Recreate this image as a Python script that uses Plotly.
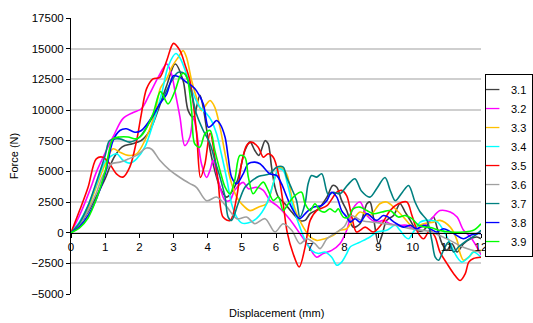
import plotly.graph_objects as go

# ---------------- data ----------------
series_names = ["3.1", "3.2", "3.3", "3.4", "3.5", "3.6", "3.7", "3.8", "3.9"]
series_colors = ["#404040", "#FF00FF", "#FFC000", "#00FFFF", "#FF0000",
                 "#A0A0A0", "#008080", "#0000FF", "#00FF00"]

x31 = [0,0.25,0.5,0.75,1.0,1.25,1.5,1.8,2.05,2.3,2.55,2.8,3.05,3.28,3.43,3.58,3.77,3.87,4.02,4.16,4.36,4.55,4.85,5.09,5.24,5.38,5.5,5.68,5.77,5.87,5.97,6.07,6.26,6.46,6.7,6.85,7.0,7.24,7.49,7.66,7.78,7.92,8.07,8.26,8.46,8.66,8.75,8.85,9.0,9.1,9.24,9.44,9.63,9.78,9.93,10.12,10.32,10.51,10.61,10.71,10.86,11.0,11.15,11.3,11.49,11.69,11.88,12.0]
y31 = [0,700,1700,3000,4400,6100,7000,7250,7500,8300,10000,12000,13750,12400,9950,9400,11200,10200,7500,5600,3700,2900,4100,6700,7400,6700,6300,7500,7250,5340,3700,2900,2360,1680,1000,1000,1550,1950,2900,3850,3700,2630,1800,450,730,2360,2500,1270,-900,-220,1000,1400,2360,1680,1000,190,190,1000,1270,450,-900,-1440,-900,-1580,-900,-500,-350,-500]

x32 = [0,0.25,0.55,0.75,0.94,1.23,1.52,1.82,2.06,2.3,2.55,2.8,2.94,3.04,3.19,3.33,3.48,3.58,3.67,3.82,3.97,4.07,4.16,4.31,4.51,4.65,4.79,5.04,5.19,5.43,5.63,5.82,6.02,6.31,6.5,6.7,6.94,7.19,7.38,7.63,7.87,8.07,8.26,8.46,8.66,8.95,9.14,9.34,9.58,9.83,10.02,10.27,10.51,10.8,11.1,11.3,11.49,11.69,11.88,12.0]
y32 = [0,1400,3450,5000,6150,7800,9300,9800,10100,11300,12660,13750,12950,11580,9400,7100,7800,9400,8300,5600,4500,5100,5900,4250,2630,2630,3450,4100,3580,3700,3450,2630,2220,1400,730,-80,-1030,-2000,-1700,-1440,-900,200,2000,2500,1400,860,1000,730,600,600,320,450,1000,1800,1680,1270,190,-350,-1170,-1800]

x33 = [0,0.25,0.5,0.75,1.0,1.23,1.43,1.67,1.92,2.16,2.45,2.62,2.8,2.95,3.14,3.28,3.38,3.53,3.67,3.82,3.97,4.07,4.21,4.36,4.51,4.65,4.85,4.99,5.24,5.48,5.72,5.97,6.11,6.31,6.46,6.6,6.8,7.0,7.19,7.43,7.68,7.87,8.07,8.25,8.46,8.75,9.04,9.24,9.49,9.73,10.02,10.32,10.61,10.8,11.1,11.3,11.39,11.49,11.64,11.78,12.0]
y33 = [0,800,2000,3800,5600,6840,6560,6300,6430,7500,9700,11800,12540,13500,14300,14840,14300,12400,11040,9950,10500,10770,10220,8600,6430,4500,2900,2360,1800,2080,2360,4500,5340,4800,2900,1550,450,-350,-630,-500,-220,190,320,1000,1680,1400,2360,2500,1950,1270,450,730,860,1000,450,-630,-1700,-2250,-2000,-1580,-1440]

x34 = [0,0.25,0.5,0.75,1.0,1.33,1.52,1.72,1.92,2.16,2.4,2.65,2.85,3.07,3.2,3.38,3.58,3.77,3.97,4.11,4.26,4.4,4.55,4.7,4.85,4.99,5.2,5.45,5.72,5.92,6.07,6.21,6.36,6.5,6.7,6.9,7.04,7.24,7.43,7.63,7.78,7.92,8.07,8.17,8.46,8.75,8.95,9.24,9.49,9.63,9.78,9.88,10.02,10.22,10.37,10.51,10.71,10.9,11.1,11.3,11.44,11.64,11.78,12.0]
y34 = [0,900,2200,4000,5800,6430,5900,5670,6020,6970,8870,11300,13600,14600,14200,12940,11300,10220,9690,9140,8060,6430,4500,2360,1270,800,800,1200,2300,4000,5200,5070,3700,2080,450,-900,-1440,-1700,-1580,-2000,-2660,-2400,-1700,-1170,-770,-350,50,190,600,190,-350,-500,50,860,1000,1000,900,190,-900,-2000,-2400,-2000,-1580,-2000]

x35 = [0,0.25,0.5,0.74,0.94,1.13,1.33,1.52,1.72,1.92,2.06,2.21,2.4,2.6,2.8,3.0,3.19,3.33,3.48,3.67,3.79,3.92,4.07,4.3,4.45,4.66,4.85,4.99,5.14,5.28,5.48,5.63,5.77,5.92,6.07,6.21,6.33,6.5,6.68,6.85,7.0,7.19,7.49,7.78,7.92,8.07,8.22,8.36,8.61,8.85,9.1,9.34,9.58,9.83,9.98,10.17,10.32,10.5,10.65,10.8,11.0,11.2,11.39,11.54,11.64,11.78,12.0]
y35 = [0,1800,3700,6020,6150,5620,4800,4530,5340,7500,9690,11720,12540,12660,14020,15430,14840,13750,12400,8300,4500,5600,8100,4300,1270,1000,2900,5620,7100,7380,6970,6150,6430,6150,4800,2360,0,-1700,-2800,-1200,1000,1800,2200,3300,3450,3000,1270,50,450,50,730,1800,2350,2500,1400,-80,-500,180,-300,-1580,-2500,-3340,-3900,-3340,-2400,-2100,-2000]

x36 = [0,0.25,0.5,0.75,0.94,1.18,1.43,1.67,1.92,2.21,2.36,2.6,2.89,3.19,3.48,3.67,3.97,4.26,4.56,4.85,5.14,5.38,5.68,5.97,6.21,6.46,6.7,6.9,7.14,7.29,7.49,7.78,8.0,8.2,8.5,9.0,9.5,10.0,10.5,11.0,11.5,12.0]
y36 = [0,700,1800,3300,4700,5600,5750,6000,6300,6900,6800,5900,5100,4500,4000,3700,2600,2900,2100,1140,1270,730,1140,50,730,190,-900,-500,-900,-1300,-500,50,500,1400,1000,800,600,300,100,-500,-1200,-1600]

x37 = [0,0.25,0.5,0.75,1.0,1.13,1.43,1.72,2.01,2.3,2.6,2.8,2.95,3.14,3.33,3.53,3.67,3.87,4.07,4.21,4.36,4.51,4.6,4.7,4.89,5.09,5.28,5.5,5.82,6.02,6.21,6.31,6.46,6.6,6.7,6.85,6.94,7.04,7.19,7.34,7.53,7.68,7.87,8.1,8.31,8.5,8.75,8.95,9.19,9.35,9.49,9.7,9.88,10.07,10.22,10.42,10.56,10.66,10.76,10.9,11.05,11.2,11.34,11.59,11.83,12.0]
y37 = [0,800,2200,4200,6300,7500,7650,7380,7800,9000,10500,11580,12400,13070,12940,11300,9690,8330,7250,5890,4530,2900,1270,1000,2360,3700,4200,4600,4800,5340,5340,4530,3580,2630,1270,2360,3990,4660,4530,4800,3100,3300,3170,3900,4400,3400,2900,3600,4500,3400,2600,3300,3850,2500,1680,1000,-630,-2000,-2250,-1440,-770,-1580,-1170,-630,-220,190]

x38 = [0,0.25,0.5,0.75,1.0,1.23,1.43,1.62,1.87,2.06,2.3,2.6,2.8,3.0,3.19,3.38,3.53,3.67,3.87,4.02,4.11,4.26,4.36,4.51,4.6,4.7,4.85,5.04,5.19,5.38,5.53,5.82,6.02,6.16,6.36,6.56,6.7,6.9,7.09,7.34,7.49,7.63,7.78,7.92,8.07,8.17,8.31,8.46,8.66,8.8,8.95,9.14,9.29,9.39,9.53,9.73,9.93,10.12,10.32,10.51,10.71,10.9,11.2,11.49,11.69,11.88,12.0]
y38 = [0,500,1400,2800,4800,7500,8330,8470,8190,8330,9140,10500,11300,12800,12660,12260,11990,11580,10500,8600,8730,9140,8870,7780,6150,4530,3990,4800,5620,5750,5620,4800,4660,3990,2630,1550,1140,1680,2080,2220,2630,3300,2900,1800,1270,860,1140,860,1550,1270,1000,1400,1270,1000,730,450,600,320,600,320,50,320,-80,-500,-220,-80,-80]

x39 = [0,0.25,0.5,0.75,1.0,1.23,1.43,1.67,1.92,2.11,2.4,2.62,2.84,3.05,3.2,3.3,3.4,3.53,3.62,3.77,3.92,4.07,4.21,4.36,4.51,4.65,4.79,4.94,5.09,5.19,5.33,5.48,5.63,5.77,5.92,6.07,6.21,6.36,6.56,6.75,6.85,7.0,7.14,7.29,7.43,7.58,7.73,7.82,7.97,8.12,8.26,8.46,8.66,8.85,9.1,9.34,9.58,9.78,9.98,10.17,10.37,10.56,10.76,11.1,11.49,11.78,12.0]
y39 = [0,400,1200,2800,5000,7650,7800,7800,7650,8060,9690,11500,10500,11600,12800,13000,12600,9950,7250,6970,8060,8330,6700,5070,3710,3170,4260,6290,6150,4530,3170,3710,4120,3440,2630,2900,1800,2360,3040,3300,2360,1800,2360,1800,1680,1950,1680,1950,1270,1270,1950,2080,1800,1550,1680,1800,1270,1400,1140,600,450,400,200,50,50,190,730]

x_tick_values = list(range(0, 13))
y_tick_values = [-5000, -2500, 0, 2500, 5000, 7500, 10000, 12500, 15000, 17500]
x_title = "Displacement (mm)"
y_title = "Force (N)"

# ---------------- figure ----------------
xs = [x31, x32, x33, x34, x35, x36, x37, x38, x39]
ys = [y31, y32, y33, y34, y35, y36, y37, y38, y39]

FONT = "Liberation Sans, Arial, sans-serif"
y_min, y_max = y_tick_values[0], y_tick_values[-1]

fig = go.Figure()
for name, col, xv, yv in zip(series_names, series_colors, xs, ys):
    fig.add_trace(go.Scatter(
        x=xv, y=yv, mode="lines", name=name, showlegend=False,
        line=dict(color=col, width=1.6, shape="spline", smoothing=0.9),
        hoverinfo="skip"))
# legend entries (short line samples)
for name, col in zip(series_names, series_colors):
    fig.add_trace(go.Scatter(
        x=[None], y=[None], mode="markers", name=name, showlegend=True,
        marker=dict(symbol="line-ew", size=12, color=col,
                    line=dict(color=col, width=1.3))))

fig.update_layout(
    width=533, height=323,
    margin=dict(l=71, r=52, t=18, b=29, autoexpand=False),
    paper_bgcolor="white", plot_bgcolor="white",
    font=dict(family=FONT, size=11, color="black"),
    showlegend=True,
    legend=dict(
        x=1.0, xanchor="right", xref="container",
        y=0.797, yanchor="top",
        bordercolor="black", borderwidth=1, bgcolor="white",
        font=dict(family=FONT, size=11, color="black"),
        itemwidth=30, indentation=-15, tracegroupgap=0,
    ),
    xaxis=dict(
        range=[0, 12], tickvals=x_tick_values, showgrid=False, zeroline=False,
        showline=True, linecolor="black", linewidth=1,
        ticks="outside", ticklen=4, tickcolor="black",
        anchor="free", position=(0 - y_min) / (y_max - y_min),
        tickfont=dict(family=FONT, size=11.5, color="black"),
    ),
    yaxis=dict(
        range=[y_min, y_max], tickvals=y_tick_values, tickformat="d",
        showgrid=True, gridcolor="#CFCFCF", gridwidth=1.5, zeroline=False,
        showline=True, linecolor="black", linewidth=1,
        ticks="outside", ticklen=4, tickcolor="black",
        tickfont=dict(family=FONT, size=11.5, color="black"),
        title=dict(text=y_title, font=dict(family=FONT, size=11, color="black"), standoff=10),
    ),
    annotations=[dict(
        text=x_title, xref="paper", yref="paper", x=0.5, y=0,
        yshift=-19, showarrow=False, yanchor="middle",
        font=dict(family=FONT, size=11, color="black"))],
)

fig.write_html("out.html", config={"displayModeBar": False},
               post_script="document.body.style.margin='0px';document.body.style.overflow='hidden';")
